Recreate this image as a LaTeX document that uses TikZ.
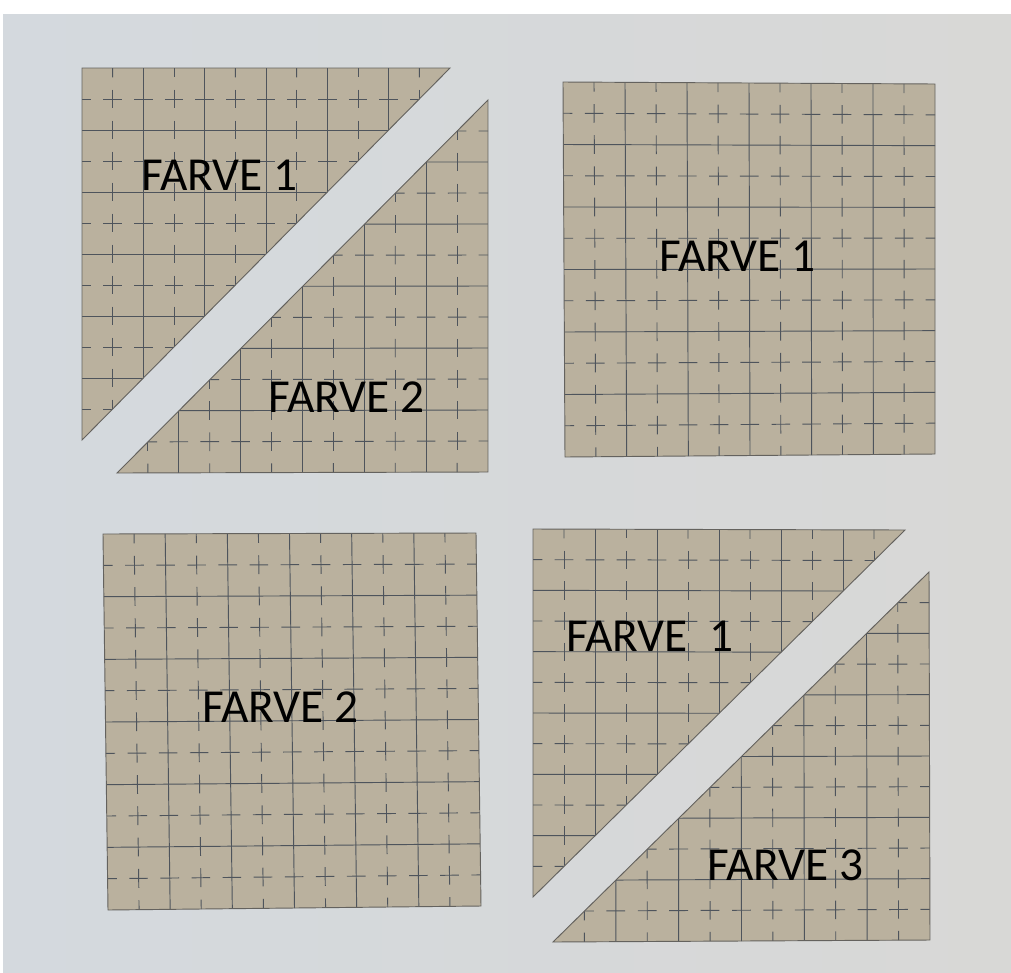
\documentclass[tikz,border=0pt]{standalone}
\usepackage{fontspec}
\setmainfont{Carlito}
\begin{document}
\begin{tikzpicture}[x=0.75pt,y=-0.75pt,
  gridline/.style={draw=gridcol,line width=0.7pt},
  cardfill/.style={fill=cardcol},
  cardedge/.style={draw=edgecol,line width=0.7pt},
  label/.style={anchor=base west,inner sep=0pt,text=black,font=\fontsize{35.5}{40}\selectfont}]
\definecolor{cardcol}{RGB}{186,177,158}
\definecolor{gridcol}{RGB}{78,84,92}
\definecolor{edgecol}{RGB}{100,98,94}
\definecolor{bgleft}{RGB}{212,217,222}
\definecolor{bgright}{RGB}{216,216,214}
\useasboundingbox (0,0) rectangle (1011,972);
\fill[white] (0,0) rectangle (1011,972);
\shade[left color=bgleft,right color=bgright] (3,14) rectangle (1011,972);
\newcommand\setq[8]{\def\qax{#1}\def\qay{#2}\def\qbx{#3}\def\qby{#4}\def\qcx{#5}\def\qcy{#6}\def\qdx{#7}\def\qdy{#8}}
\newcommand\qp[2]{({(1-(#2))*((1-(#1))*\qax+(#1)*\qbx)+(#2)*((1-(#1))*\qcx+(#1)*\qdx)},{(1-(#2))*((1-(#1))*\qay+(#1)*\qby)+(#2)*((1-(#1))*\qcy+(#1)*\qdy)})}
\newcommand\qgrid{%
  \foreach \i in {2,4,...,10} {
    \draw[gridline] \qp{\i/12}{0} -- \qp{\i/12}{1};
    \draw[gridline] \qp{0}{\i/12} -- \qp{1}{\i/12};
  }
  \foreach \i in {1,3,...,11} {
    \foreach \j in {0,...,12} {
      \draw[gridline] \qp{\i/12}{(\j-0.3)/12} -- \qp{\i/12}{(\j+0.3)/12};
      \draw[gridline] \qp{(\j-0.3)/12}{\i/12} -- \qp{(\j+0.3)/12}{\i/12};
    }
  }}
% piece 1: upper-left triangle, top-left block
\setq{82}{68}{450}{68}{82}{440}{450}{440}
\begin{scope}
  \clip (82,68) -- (450,68) -- (82,440) -- cycle;
  \fill[cardfill] (82,68) -- (450,68) -- (82,440) -- cycle;
  \qgrid
\end{scope}
\draw[cardedge] (82,68) -- (450,68) -- (82,440) -- cycle;
% piece 2: lower-right triangle, top-left block
\setq{117}{100}{488}{100}{117}{473}{488}{472}
\begin{scope}
  \clip (488,100) -- (488,472) -- (117,473) -- cycle;
  \fill[cardfill] (488,100) -- (488,472) -- (117,473) -- cycle;
  \qgrid
\end{scope}
\draw[cardedge] (488,100) -- (488,472) -- (117,473) -- cycle;
% piece 3: square, top-right
\setq{563}{82}{935}{84}{565}{457}{935}{454}
\begin{scope}
  \clip (563,82) -- (935,84) -- (935,454) -- (565,457) -- cycle;
  \fill[cardfill] (563,82) -- (935,84) -- (935,454) -- (565,457) -- cycle;
  \qgrid
\end{scope}
\draw[cardedge] (563,82) -- (935,84) -- (935,454) -- (565,457) -- cycle;
% piece 4: square, bottom-left
\setq{103}{534}{476}{533}{108}{910}{481}{906}
\begin{scope}
  \clip (103,534) -- (476,533) -- (481,906) -- (108,910) -- cycle;
  \fill[cardfill] (103,534) -- (476,533) -- (481,906) -- (108,910) -- cycle;
  \qgrid
\end{scope}
\draw[cardedge] (103,534) -- (476,533) -- (481,906) -- (108,910) -- cycle;
% piece 5: upper-left triangle, bottom-right block
\setq{533}{529}{905}{530}{533}{897}{905}{897}
\begin{scope}
  \clip (533,529) -- (905,530) -- (533,897) -- cycle;
  \fill[cardfill] (533,529) -- (905,530) -- (533,897) -- cycle;
  \qgrid
\end{scope}
\draw[cardedge] (533,529) -- (905,530) -- (533,897) -- cycle;
% piece 6: lower-right triangle, bottom-right block
\setq{553}{572}{929}{572}{553}{942}{930}{940}
\begin{scope}
  \clip (929,572) -- (930,940) -- (553,942) -- cycle;
  \fill[cardfill] (929,572) -- (930,940) -- (553,942) -- cycle;
  \qgrid
\end{scope}
\draw[cardedge] (929,572) -- (930,940) -- (553,942) -- cycle;
% labels
\node[label] (t1) at (141,190) {FARVE 1};
\node[label] (t2) at (268,412) {FARVE 2};
\node[label] (t3) at (659,271) {FARVE 1};
\node[label] (t4) at (202,722) {FARVE 2};
\node[label] (t5) at (566,651) {FARVE\ \ 1};
\node[label] (t6) at (707,880) {FARVE 3};
\end{tikzpicture}
\end{document}
